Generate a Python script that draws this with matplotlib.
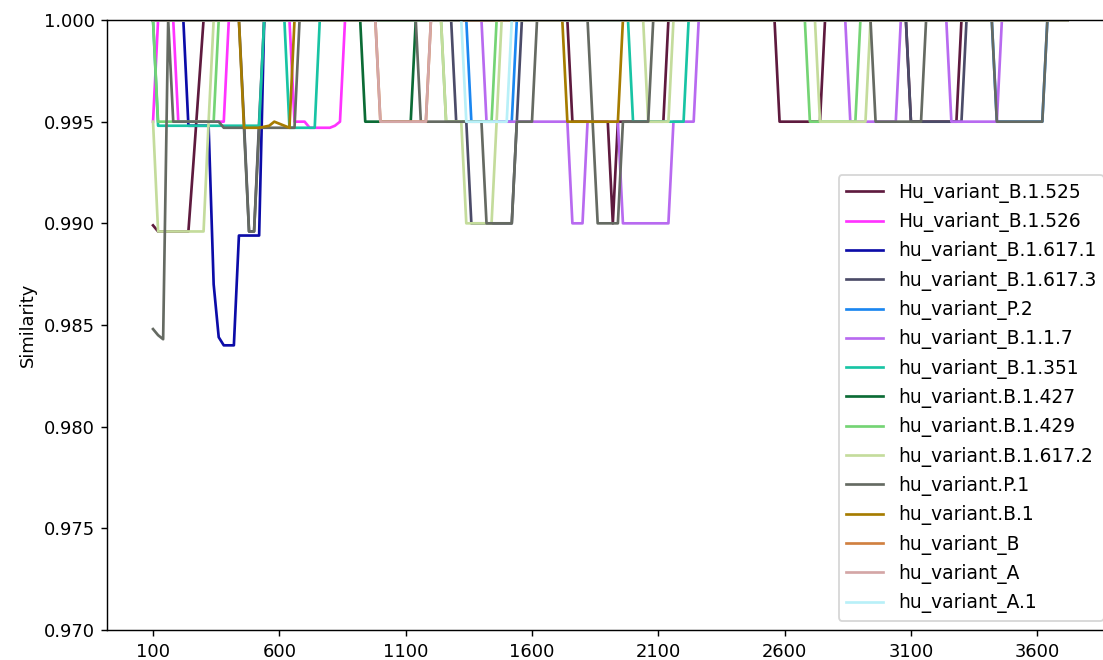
import matplotlib
matplotlib.use("Agg")
import matplotlib.pyplot as plt

# window start positions (x axis)
positions = list(range(100, 3721, 20))

names = [
    "Hu_variant_B.1.525", "Hu_variant_B.1.526", "hu_variant_B.1.617.1",
    "hu_variant_B.1.617.3", "hu_variant_P.2", "hu_variant_B.1.1.7",
    "hu_variant_B.1.351", "hu_variant.B.1.427", "hu_variant.B.1.429",
    "hu_variant.B.1.617.2", "hu_variant.P.1", "hu_variant.B.1",
    "hu_variant_B", "hu_variant_A", "hu_variant_A.1",
]
colors = [
    "#5e1a3e", "#ff33ff", "#0c0ca8", "#4b4b68", "#1a86f0", "#b86af0",
    "#18c4a4", "#0b6b35", "#74d474", "#c4dc9c", "#656a62", "#a67c00",
    "#d08040", "#d4a6a6", "#b8f0f8",
]

# runs of (from x, to x, similarity); 1.0 everywhere else
runs_b1525 = [(100, 100, 0.9899), (120, 240, 0.9896), (260, 260, 0.9930),
              (280, 280, 0.9965), (1760, 1900, 0.995), (1920, 1920, 0.990),
              (1940, 2120, 0.995), (2580, 2740, 0.995), (3100, 3280, 0.995)]
runs_b1526 = [(100, 100, 0.995), (200, 380, 0.995), (660, 700, 0.995),
              (720, 800, 0.9947), (820, 820, 0.9948), (840, 840, 0.995)]
runs_b16171 = [(240, 320, 0.9948), (340, 340, 0.9870), (360, 360, 0.9844),
               (380, 420, 0.9840), (440, 520, 0.9894)]
runs_b16173 = [(460, 460, 0.995), (480, 500, 0.9896), (520, 520, 0.995),
               (1300, 1340, 0.995), (1360, 1520, 0.990), (1540, 1540, 0.995),
               (3100, 3300, 0.995)]
runs_p2 = [(1360, 1520, 0.995), (3440, 3620, 0.995)]
runs_b117 = [(1420, 1740, 0.995), (1760, 1800, 0.990), (1820, 1940, 0.995),
             (1960, 2140, 0.990), (2160, 2240, 0.995), (2860, 3040, 0.995),
             (3260, 3440, 0.995)]
runs_b1351 = [(120, 520, 0.9948), (640, 740, 0.9947), (2000, 2200, 0.995)]
runs_b1427 = [(940, 1120, 0.995)]
runs_b1429 = [(120, 340, 0.995), (1260, 1440, 0.995), (2700, 2880, 0.995)]
runs_b16172 = [(100, 100, 0.995), (120, 300, 0.9896), (320, 320, 0.995),
               (1260, 1320, 0.995), (1340, 1440, 0.990), (1460, 1460, 0.995),
               (2060, 2140, 0.995), (2740, 2920, 0.995)]
runs_p1 = [(100, 100, 0.9848), (120, 120, 0.9845), (140, 140, 0.9843),
           (180, 360, 0.995), (380, 460, 0.9947), (480, 500, 0.9896),
           (520, 660, 0.9947), (1160, 1400, 0.995), (1420, 1520, 0.990),
           (1540, 1600, 0.995), (1840, 1840, 0.995), (1860, 1940, 0.990),
           (1960, 2060, 0.995), (2960, 3140, 0.995), (3440, 3620, 0.995)]
runs_b1 = [(460, 520, 0.9947), (540, 540, 0.99475), (560, 560, 0.9948),
           (580, 580, 0.9950), (600, 600, 0.9949), (620, 620, 0.9948),
           (640, 640, 0.9947), (1740, 1940, 0.995)]
runs_b = [(1000, 1180, 0.995)]
runs_a = [(1000, 1180, 0.995)]
runs_a1 = [(1340, 1500, 0.995)]

all_runs = [runs_b1525, runs_b1526, runs_b16171, runs_b16173, runs_p2,
            runs_b117, runs_b1351, runs_b1427, runs_b1429, runs_b16172,
            runs_p1, runs_b1, runs_b, runs_a, runs_a1]


def build(runs):
    ys = []
    for x in positions:
        v = 1.0
        for a, b, val in runs:
            if a <= x <= b:
                v = val
        ys.append(v)
    return ys


DPI = 129
fig = plt.figure(figsize=(1103 / DPI, 660 / DPI), dpi=DPI)
ax = fig.add_axes([107.3 / 1103, 30 / 660, 1006 / 1103, 610 / 660])

for name, col, runs in zip(names, colors, all_runs):
    ax.plot(positions, build(runs), color=col, label=name)

ax.set_xlim(-81, 3901)
ax.set_ylim(0.970, 1.000)
ax.set_xticks(list(range(100, 3601, 500)))
ax.set_yticks([0.970, 0.975, 0.980, 0.985, 0.990, 0.995, 1.000])
ax.set_yticklabels(["0.970", "0.975", "0.980", "0.985", "0.990", "0.995", "1.000"])
ax.set_ylabel("Similarity")
ax.legend(loc="lower right", fontsize=10.4)

fig.savefig("out.png", dpi=DPI)
